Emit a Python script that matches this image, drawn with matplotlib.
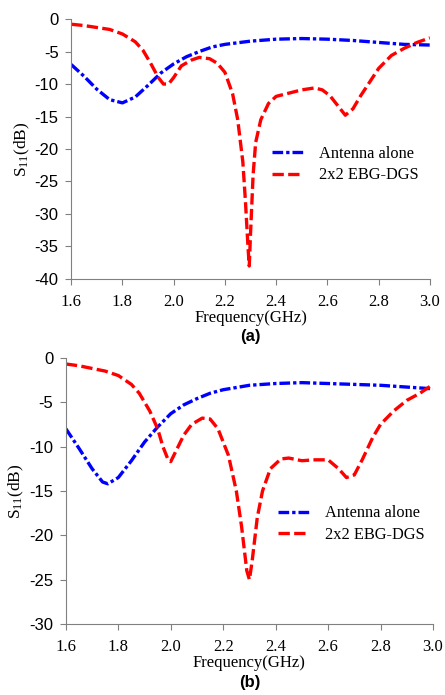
"""S11 comparison: antenna alone vs 2x2 EBG-DGS, two cases (a) and (b)."""
import matplotlib
matplotlib.use("Agg")
import matplotlib.pyplot as plt

plt.rcParams["mathtext.fontset"] = "custom"
plt.rcParams["mathtext.rm"] = "Liberation Serif"
plt.rcParams["mathtext.it"] = "Liberation Serif"

# ---- (a) ----
freq_a_blue = [1.6, 1.65, 1.7, 1.75, 1.8, 1.85, 1.9, 1.95, 2.0, 2.05, 2.1, 2.15, 2.2,
               2.3, 2.4, 2.5, 2.6, 2.7, 2.8, 2.9, 3.0]
s11_a_blue = [-7.0, -8.8, -10.8, -12.4, -12.9, -12.0, -10.2, -8.3, -6.9, -5.8, -5.0, -4.3, -3.9,
              -3.4, -3.1, -3.0, -3.1, -3.3, -3.6, -3.9, -4.0]
freq_a_red = [1.6, 1.65, 1.7, 1.75, 1.8, 1.85, 1.88, 1.91, 1.94, 1.96, 1.98, 2.0, 2.03, 2.07,
              2.1, 2.14, 2.17, 2.2, 2.23, 2.25, 2.27, 2.28, 2.29, 2.295, 2.3, 2.31, 2.32, 2.34,
              2.37, 2.4, 2.45, 2.5, 2.55, 2.58, 2.61, 2.64, 2.67, 2.7, 2.73, 2.77, 2.8, 2.85,
              2.9, 2.95, 3.0]
s11_a_red = [-0.8, -1.0, -1.3, -1.6, -2.3, -3.5, -4.8, -6.8, -9.0, -10.0, -10.0, -9.0, -7.2, -6.3,
             -5.9, -6.1, -6.8, -8.2, -11.5, -15.5, -22.0, -28.0, -35.0, -38.0, -33.0, -24.0, -19.0, -15.5,
             -13.0, -11.9, -11.4, -10.9, -10.6, -10.9, -11.8, -13.3, -14.8, -13.8, -11.8, -9.4, -7.6, -5.6,
             -4.5, -3.6, -2.9]

# ---- (b) ----
freq_b_blue = [1.6, 1.65, 1.7, 1.74, 1.76, 1.8, 1.85, 1.9, 1.95, 2.0, 2.05, 2.1, 2.15, 2.2,
               2.3, 2.4, 2.5, 2.6, 2.7, 2.8, 2.9, 3.0]
s11_b_blue = [-8.0, -10.2, -12.5, -14.0, -14.2, -13.5, -11.6, -9.5, -7.8, -6.3, -5.3, -4.6, -4.0, -3.6,
              -3.1, -2.9, -2.8, -2.9, -3.0, -3.1, -3.3, -3.5]
freq_b_red = [1.6, 1.65, 1.7, 1.75, 1.8, 1.85, 1.88, 1.92, 1.95, 1.97, 1.99, 2.0, 2.02, 2.05,
              2.08, 2.12, 2.15, 2.18, 2.22, 2.25, 2.27, 2.29, 2.3, 2.31, 2.33, 2.35, 2.38, 2.42,
              2.45, 2.5, 2.55, 2.6, 2.64, 2.67, 2.7, 2.73, 2.77, 2.8, 2.85, 2.9, 2.95, 3.0]
s11_b_red = [-0.7, -0.9, -1.2, -1.5, -2.0, -3.0, -4.0, -6.0, -8.0, -10.0, -11.5, -11.7, -10.5, -8.7,
             -7.5, -6.8, -6.9, -8.0, -11.0, -15.0, -19.0, -24.0, -25.0, -23.0, -18.0, -15.0, -12.5, -11.4,
             -11.3, -11.6, -11.5, -11.5, -12.5, -13.5, -13.2, -11.5, -9.0, -7.5, -6.0, -4.8, -4.0, -3.0]

xticks = [1.6, 1.8, 2.0, 2.2, 2.4, 2.6, 2.8, 3.0]
labels = ["Antenna alone", "2x2 EBG-DGS"]

fig = plt.figure(figsize=(4.45, 6.95), dpi=100)
ax_a = fig.add_axes([0.160, 0.5986, 0.806, 0.374])
ax_b = fig.add_axes([0.148, 0.1022, 0.825, 0.383])

panels = [
    (ax_a, freq_a_blue, s11_a_blue, freq_a_red, s11_a_red, (-40, 0), range(-40, 1, 5), "(a)", (0.56, 0.44)),
    (ax_b, freq_b_blue, s11_b_blue, freq_b_red, s11_b_red, (-30, 0), range(-30, 1, 5), "(b)", (0.578, 0.375)),
]

for ax, fb, sb, fr, sr, ylim, yt, tag, leg_pos in panels:
    ax.plot(fb, sb, color="#0000ff", lw=2.4, dashes=(3.2, 0.9, 1.0, 0.9), label=labels[0])
    ax.plot(fr, sr, color="#ff0000", lw=2.4, dashes=(3.4, 1.3), label=labels[1])
    ax.set_xlim(1.6, 3.0)
    ax.set_ylim(*ylim)
    ax.set_xticks(xticks)
    ax.set_xticklabels([f"{v:.1f}" for v in xticks], family="Liberation Serif", fontsize=12)
    ax.set_yticks(list(yt))
    ax.set_yticklabels([str(v) for v in yt], family="Liberation Sans", fontsize=12)
    for side in ("top", "right"):
        ax.spines[side].set_visible(False)
    for side in ("left", "bottom"):
        ax.spines[side].set_color("#808080")
    ax.tick_params(direction="out", length=4, color="#808080")
    ax.tick_params(axis="x", pad=7)
    ax.tick_params(axis="y", pad=5)
    ax.set_xlabel("Frequency(GHz)", family="Liberation Serif", fontsize=12, labelpad=0)
    ax.set_ylabel(r"S$_{11}$(dB)", family="Liberation Serif", fontsize=12.5, labelpad=2)
    ax.legend(loc="center left", bbox_to_anchor=leg_pos, frameon=False, borderpad=0,
              borderaxespad=0, prop={"family": "Liberation Serif", "size": 11.8},
              handlelength=1.9, handletextpad=0.95, labelspacing=0.35)
    ax.text(0.5, -0.22, tag, transform=ax.transAxes, ha="center", va="center",
            fontsize=12, fontweight="bold", family="Liberation Sans")

fig.savefig("out.png", dpi=100)
